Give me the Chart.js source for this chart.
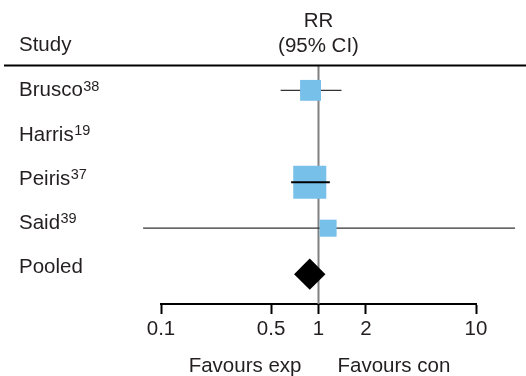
<!DOCTYPE html>
<html>
<head>
<meta charset="utf-8">
<script src="https://cdn.jsdelivr.net/npm/chart.js@4"></script>
<style>
  html, body { margin: 0; padding: 0; background: #fff; }
  canvas { display: block; }
</style>
</head>
<body>
<canvas id="forest" width="526" height="376"></canvas>
<script>
// 数据
const studies = ['Brusco', 'Harris', 'Peiris', 'Said', 'Pooled'];
const refs = ['38', '19', '37', '39', ''];
const rr = [0.89, null, 0.88, 1.15];
const lower = [0.575, null, 0.67, 0.077];
const upper = [1.40, null, 1.18, 17.7];
const weights = [24, null, 60, 16];
const pooledRR = 0.88;
const tickValues = [0.1, 0.5, 1, 2, 10];

const FONT = '"Liberation Sans", Arial, sans-serif';
const FS = 20.5;
const TEXT = '#231f20';
const BLUE = '#76c0ea';
const ciOnTop = [false, false, true, false];// 方框盖住置信区间时线画在上面

// 每个研究的置信区间线
const ciSets = [];
studies.forEach((s, i) => {
    if (lower[i] == null) return;
    ciSets.push({
        type: 'line',
        data: [{ x: lower[i], y: i }, { x: upper[i], y: i }],
        borderColor: ciOnTop[i] ? '#000' : '#333',
        borderWidth: ciOnTop[i] ? 2 : 1.2,
        pointRadius: 0,
        clip: false,
        order: ciOnTop[i] ? 0 : 3
    });
});

const boxPts = [];
const boxRad = [];
rr.forEach((v, i) => {
    if (v == null) return;
    boxPts.push({ x: v, y: i });
    boxRad.push(3.015 * Math.sqrt(weights[i]));// 面积与权重成正比
});

const yMin = -0.53, yMax = 4.65;

// 左侧标签、表头、底部说明
const textPlugin = {
    id: 'forestText',
    afterDraw(chart) {
        const ctx = chart.ctx;
        const xs = chart.scales.x, ys = chart.scales.y;
        const x1 = xs.getPixelForValue(1);
        ctx.save();
        ctx.fillStyle = TEXT;
        ctx.textBaseline = 'alphabetic';
        ctx.font = FS + 'px ' + FONT;
        ctx.textAlign = 'center';
        ctx.fillText('RR', x1, 27);
        ctx.fillText('(95% CI)', x1, 52);
        ctx.textAlign = 'left';
        ctx.fillText('Study', 19, 51);
        // 表头下方的横线
        ctx.strokeStyle = '#000';
        ctx.lineWidth = 2;
        ctx.beginPath();
        ctx.moveTo(4, chart.chartArea.top - 0.5);
        ctx.lineTo(526, chart.chartArea.top - 0.5);
        ctx.stroke();
        studies.forEach((s, i) => {
            const y = ys.getPixelForValue(i) - i * 1.75 + 6;
            ctx.font = FS + 'px ' + FONT;
            ctx.textAlign = 'left';
            ctx.fillText(s, 19, y);
            const w = ctx.measureText(s).width;
            if (refs[i]) {
                ctx.font = '14.5px ' + FONT;
                ctx.fillText(refs[i], 19 + w + 0.5, y - 5.5);
            }
        });
        ctx.font = FS + 'px ' + FONT;
        ctx.textAlign = 'right';
        ctx.fillText('Favours exp', x1 - 17, 372);
        ctx.textAlign = 'left';
        ctx.fillText('Favours con', x1 + 19, 372);
        ctx.restore();
    }
};

new Chart(document.getElementById('forest'), {
    type: 'scatter',
    data: {
        datasets: [
            {// x=1 的参考线
                type: 'line',
                data: [{ x: 1, y: yMin }, { x: 1, y: yMax }],
                borderColor: '#808080',
                borderWidth: 2,
                pointRadius: 0,
                order: 5
            },
            ...ciSets,
            {
                data: boxPts,
                pointStyle: 'rect',
                pointRadius: boxRad,
                pointHoverRadius: boxRad,
                backgroundColor: BLUE,
                borderWidth: 0,
                clip: false,
                order: 1
            },
            {
                data: [{ x: pooledRR, y: 4 }],
                pointStyle: 'rectRot',
                pointRadius: 15.7,
                pointHoverRadius: 15.7,
                backgroundColor: '#000',
                borderWidth: 0,
                clip: false,
                order: 1
            }
        ]
    },
    options: {
        responsive: false,
        devicePixelRatio: 1,
        animation: false,
        layout: { padding: { left: 161, right: 50, top: 66, bottom: 32 } },
        plugins: { legend: { display: false }, tooltip: { enabled: false } },
        scales: {
            x: {
                type: 'logarithmic',
                min: 0.1,
                max: 10,
                afterBuildTicks: s => { s.ticks = tickValues.map(v => ({ value: v })); },
                afterFit: s => { s.paddingLeft = 0; s.paddingRight = 0; },
                border: { display: true, color: '#000', width: 2 },
                grid: { drawOnChartArea: false, drawTicks: true, tickLength: 10, tickColor: '#000', tickWidth: 2 },
                ticks: {
                    padding: 3,
                    autoSkip: false,
                    maxRotation: 0,
                    color: TEXT,
                    font: { family: FONT, size: FS, lineHeight: 24 / FS },
                    callback: v => String(v)
                }
            },
            y: {
                type: 'linear',
                display: false,
                reverse: true,
                min: yMin,
                max: yMax
            }
        }
    },
    plugins: [textPlugin]
});
</script>
</body>
</html>
